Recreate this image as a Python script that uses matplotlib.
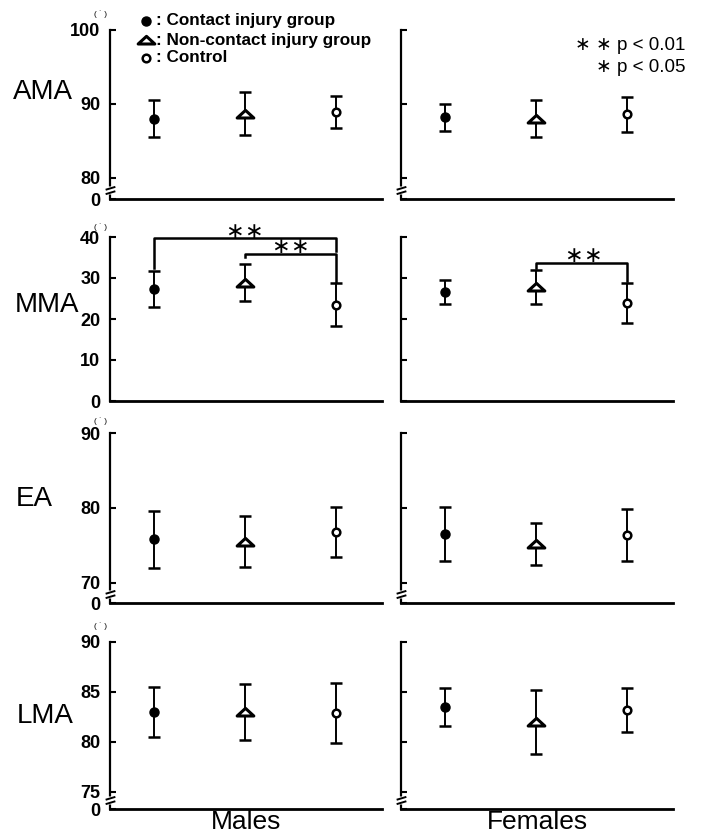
import numpy as np
import matplotlib
matplotlib.use('Agg')
import matplotlib.pyplot as plt
from matplotlib.path import Path

plt.rcParams['font.family'] = ['Liberation Sans', 'DejaVu Sans']

groups = ['Contact injury group', 'Non-contact injury group', 'Control']
sexes = ['Males', 'Females']
measures = ['AMA', 'MMA', 'EA', 'LMA']

# mean / SD  ->  [males, females], each in the order of `groups`
ama_mean = [[88.0, 88.7, 88.9], [88.2, 88.0, 88.6]]
ama_sd = [[2.5, 2.9, 2.2], [1.8, 2.5, 2.4]]
mma_mean = [[27.3, 28.9, 23.5], [26.5, 27.8, 24.0]]
mma_sd = [[4.3, 4.6, 5.2], [2.9, 4.2, 4.9]]
ea_mean = [[75.8, 75.5, 76.8], [76.5, 75.2, 76.4]]
ea_sd = [[3.8, 3.4, 3.3], [3.6, 2.8, 3.5]]
lma_mean = [[83.0, 83.0, 82.9], [83.5, 82.0, 83.2]]
lma_sd = [[2.5, 2.8, 3.0], [1.9, 3.2, 2.2]]

ama_ticks = [80, 90, 100]
mma_ticks = [0, 10, 20, 30, 40]
ea_ticks = [70, 80, 90]
lma_ticks = [75, 80, 85, 90]

# significance brackets for MMA: (group a, group b, level, drop at a, drop at b)
mma_brackets = [[(0, 2, 39.8, 32.4, 36.6), (1, 2, 35.9, 35.2, 29.1)],
                [(1, 2, 33.7, 32.4, 29.2)]]
# '**' labels: (x position, y value)
mma_stars = [[(1.99, 41.3), (2.5, 37.5)], [(2.52, 35.3)]]

means = [ama_mean, mma_mean, ea_mean, lma_mean]
sds = [ama_sd, mma_sd, ea_sd, lma_sd]
tick_sets = [ama_ticks, mma_ticks, ea_ticks, lma_ticks]

W, H = 702, 835
fig = plt.figure(figsize=(W / 100, H / 100), dpi=100)

# layout in pixels: top, baseline, y at baseline, y at top, broken axis, unit label offset
rows = [(30, 199, 77.16, 100, True, 16),
        (237, 401, 0, 40, False, 10),
        (433, 603, 67.33, 90, True, 12),
        (642, 809, 73.3, 90, True, 16)]
col_x = [110, 401]
col_w = 272
label_pos = [(13, 92), (15, 305), (16, 499), (17, 716)]

xs = np.array([1, 2, 3])
tri = Path([(-1, -0.42), (1, -0.42), (0, 0.5), (-1, -0.42)],
           [Path.MOVETO, Path.LINETO, Path.LINETO, Path.CLOSEPOLY])
zig = Path([(-1, -0.75), (1, -0.15), (-1, 0.15), (1, 0.75)],
           [Path.MOVETO, Path.LINETO, Path.MOVETO, Path.LINETO])
gap = Path([(-0.5, -0.3), (0.5, -0.3), (0.5, 0.3), (-0.5, 0.3), (-0.5, -0.3)],
           [Path.MOVETO, Path.LINETO, Path.LINETO, Path.LINETO, Path.CLOSEPOLY])
styles = [dict(marker='o', ms=6.5, mfc='k', mec='k', mew=1),
          dict(marker=tri, ms=12, mfc='white', mec='k', mew=2.2),
          dict(marker='o', ms=5.5, mfc='white', mec='k', mew=1.8)]

for r, (top, base, y0, y1, broken, uoff) in enumerate(rows):
    hpx = base - top
    for c in range(2):
        ax = fig.add_axes([col_x[c] / W, 1 - base / H, col_w / W, hpx / H])
        ax.set_xlim(0.52, 3.51)
        ax.set_ylim(y0, y1)
        for s in ['top', 'right']:
            ax.spines[s].set_visible(False)
        ax.spines['left'].set_linewidth(1.6)
        ax.spines['bottom'].set_linewidth(2.0)
        ax.set_xticks([])
        tk = list(tick_sets[r])
        labels = [str(t) for t in tk]
        if broken:
            tk = [y0] + tk
            labels = ['0'] + labels
        ax.set_yticks(tk)
        if c == 0:
            ax.set_yticklabels(labels, fontsize=13, fontweight='bold')
        else:
            ax.set_yticklabels([])
        ax.tick_params(axis='y', direction='in', length=4, width=1.5, pad=7)

        for g in range(3):
            m = means[r][c][g]
            sd = sds[r][c][g]
            ax.errorbar(xs[g], m, yerr=sd, fmt='none', ecolor='k',
                        elinewidth=1.4, capsize=4.3, capthick=1.8, zorder=3)
            ax.plot(xs[g], m, ls='none', zorder=4, **styles[g])

        if broken:
            by = 9 / hpx
            ax.plot(0, by, transform=ax.transAxes, marker=gap, ms=9, mfc='white',
                    mec='none', ls='none', clip_on=False, zorder=5)
            ax.plot(0, by, transform=ax.transAxes, marker=zig, ms=7, mec='k',
                    mew=1.4, ls='none', clip_on=False, zorder=6)

        if r == 1:
            for (a, b, lev, da, db) in mma_brackets[c]:
                ax.plot([xs[a], xs[a], xs[b], xs[b]], [da, lev, lev, db],
                        color='k', lw=1.8, clip_on=False, zorder=3)
            for (sx, sy) in mma_stars[c]:
                for dx in (-7, 7):
                    ax.annotate('\u2217', xy=(sx, sy), xytext=(dx, 0),
                                textcoords='offset points', ha='center',
                                va='center', fontsize=16, family='DejaVu Sans',
                                annotation_clip=False)

        if c == 0:
            ax.annotate('( \u02d9 )', xy=(0, 1), xycoords='axes fraction',
                        xytext=(-7, uoff * 0.72), textcoords='offset points',
                        ha='center', va='center', fontsize=6)
        if r == 3:
            ax.set_xlabel(sexes[c], fontsize=19, labelpad=1)

    lx, ly = label_pos[r]
    fig.text(lx / W, 1 - ly / H, measures[r], fontsize=20, ha='left', va='center')

# legend and significance key, drawn in pixel space
ov = fig.add_axes([0, 0, 1, 1])
ov.set_xlim(0, W)
ov.set_ylim(H, 0)
ov.axis('off')
leg_y = [21, 40, 58]
for g in range(3):
    ov.plot(146, leg_y[g], ls='none', **styles[g])
    ov.text(156, leg_y[g], ': ' + groups[g], fontsize=12.3, fontweight='bold',
            ha='left', va='center')
ov.text(685, 45, '\u2217 \u2217 p < 0.01', fontsize=13.5, ha='right', va='center')
ov.text(686, 67, '\u2217 p < 0.05', fontsize=13.5, ha='right', va='center')

fig.savefig('out.png', dpi=100)
